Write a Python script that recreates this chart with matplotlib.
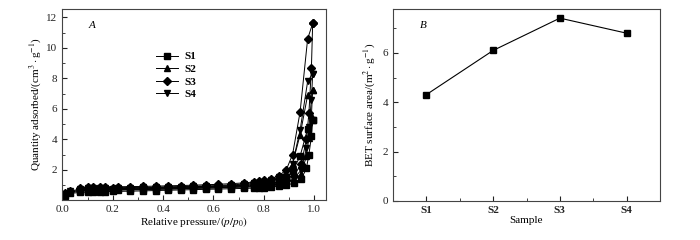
import matplotlib
matplotlib.use("Agg")
import matplotlib.pyplot as plt
from matplotlib.ticker import MultipleLocator

plt.rcParams['font.family'] = ['Liberation Serif', 'DejaVu Serif']
plt.rcParams['mathtext.fontset'] = 'stix'
plt.rcParams['font.size'] = 8

# Panel A: N2 isotherms, adsorption then desorption branch
p_ads = [0.01, 0.03, 0.07, 0.10, 0.12, 0.15, 0.17, 0.20, 0.27, 0.32, 0.37, 0.42,
         0.47, 0.52, 0.57, 0.62, 0.67, 0.72, 0.76, 0.78, 0.80, 0.83, 0.86, 0.89,
         0.92, 0.95, 0.97, 0.98, 0.99, 0.995]
p_des = [0.995, 0.975, 0.945, 0.915, 0.89, 0.86, 0.83, 0.80, 0.78, 0.76, 0.72,
         0.67, 0.62, 0.57, 0.52, 0.47, 0.42, 0.37, 0.32, 0.27, 0.22, 0.17, 0.15,
         0.12, 0.10, 0.07]

s1_ads = [0.30, 0.45, 0.52, 0.54, 0.55, 0.56, 0.57, 0.58, 0.60, 0.62, 0.64, 0.66,
          0.68, 0.70, 0.72, 0.74, 0.76, 0.78, 0.80, 0.82, 0.84, 0.88, 0.93, 1.00,
          1.12, 1.40, 2.10, 3.00, 4.20, 5.30]
s1_des = [5.30, 4.70, 2.90, 1.90, 1.50, 1.25, 1.10, 1.02, 0.97, 0.94, 0.90, 0.86,
          0.83, 0.81, 0.79, 0.77, 0.75, 0.73, 0.72, 0.71, 0.70, 0.69, 0.68, 0.67,
          0.66, 0.64]

s2_ads = [0.35, 0.52, 0.60, 0.62, 0.63, 0.64, 0.65, 0.66, 0.68, 0.70, 0.72, 0.74,
          0.76, 0.78, 0.80, 0.82, 0.84, 0.86, 0.88, 0.90, 0.92, 0.96, 1.02, 1.12,
          1.30, 1.75, 2.90, 4.10, 5.60, 7.25]
s2_des = [7.25, 6.90, 4.30, 2.40, 1.75, 1.40, 1.22, 1.12, 1.07, 1.03, 0.98, 0.94,
          0.91, 0.88, 0.86, 0.84, 0.82, 0.80, 0.79, 0.78, 0.77, 0.76, 0.75, 0.74,
          0.73, 0.71]

s3_ads = [0.45, 0.62, 0.72, 0.74, 0.75, 0.76, 0.77, 0.78, 0.80, 0.82, 0.84, 0.86,
          0.88, 0.90, 0.92, 0.94, 0.96, 0.99, 1.02, 1.04, 1.06, 1.10, 1.18, 1.30,
          1.60, 2.40, 4.00, 5.70, 8.70, 11.60]
s3_des = [11.60, 10.60, 5.80, 3.00, 2.00, 1.60, 1.42, 1.30, 1.24, 1.20, 1.14, 1.09,
          1.05, 1.02, 0.99, 0.97, 0.95, 0.93, 0.91, 0.90, 0.89, 0.88, 0.87, 0.86,
          0.85, 0.83]

s4_ads = [0.40, 0.58, 0.66, 0.68, 0.69, 0.70, 0.71, 0.72, 0.74, 0.76, 0.78, 0.80,
          0.82, 0.84, 0.86, 0.88, 0.90, 0.92, 0.95, 0.97, 0.99, 1.03, 1.10, 1.20,
          1.42, 2.00, 3.40, 4.80, 6.60, 8.30]
s4_des = [8.30, 7.80, 4.60, 2.40, 1.85, 1.50, 1.32, 1.20, 1.15, 1.11, 1.06, 1.01,
          0.97, 0.94, 0.92, 0.90, 0.88, 0.86, 0.85, 0.84, 0.83, 0.82, 0.81, 0.80,
          0.79, 0.77]

series_names = ['S1', 'S2', 'S3', 'S4']
series_markers = ['s', '^', 'D', 'v']

# Panel B: BET surface area
samples = ['S1', 'S2', 'S3', 'S4']
bet_area = [4.31, 6.10, 7.41, 6.80]


def style_axes(ax):
    for sp in ax.spines.values():
        sp.set_color('#444444')
        sp.set_linewidth(0.8)
    ax.tick_params(which='both', direction='in', top=False, right=False,
                   colors='#222222', labelsize=8)
    ax.tick_params(which='major', length=3.5)
    ax.tick_params(which='minor', length=2)


fig = plt.figure(figsize=(7, 2.4), dpi=100)
ax1 = fig.add_axes([62 / 700, 40 / 240, 264 / 700, 191 / 240])
ax2 = fig.add_axes([393 / 700, 39 / 240, 267 / 700, 192 / 240])

ads_list = [s1_ads, s2_ads, s3_ads, s4_ads]
des_list = [s1_des, s2_des, s3_des, s4_des]
for name, mk, ads, des in zip(series_names, series_markers, ads_list, des_list):
    ms = 3.6 if mk == 'D' else 4.0
    ax1.plot(p_ads + p_des, ads + des, color='black', marker=mk, markersize=ms,
             linewidth=0.7, label=name)

ax1.set_xlim(-0.002, 1.048)
ax1.set_ylim(0.02, 12.55)
ax1.set_xticks([0.0, 0.2, 0.4, 0.6, 0.8, 1.0])
ax1.set_xticklabels(['0.0', '0.2', '0.4', '0.6', '0.8', '1.0'])
ax1.xaxis.set_minor_locator(MultipleLocator(0.1))
ax1.set_yticks([2, 4, 6, 8, 10, 12])
ax1.yaxis.set_minor_locator(MultipleLocator(1))
ax1.set_xlabel('Relative pressure/$(p/p_0)$', fontsize=8, labelpad=1)
ax1.set_ylabel('Quantity adsorbed/(cm$^3\\cdot$g$^{-1}$)', fontsize=8, labelpad=2)
ax1.text(0.1, 0.9, 'A', transform=ax1.transAxes, fontstyle='italic', fontsize=8)
leg = ax1.legend(loc='upper left', bbox_to_anchor=(0.34, 0.8), frameon=False,
                 handlelength=2.0, handletextpad=0.5, labelspacing=0.25,
                 borderaxespad=0, prop={'weight': 'bold', 'size': 8})
style_axes(ax1)

xpos = list(range(1, len(samples) + 1))
ax2.plot(xpos, bet_area, color='black', marker='s', markersize=4, linewidth=0.8)
ax2.set_xlim(0.5, 4.5)
ax2.set_ylim(0, 7.78)
ax2.set_xticks(xpos)
ax2.set_xticklabels(samples)
ax2.xaxis.set_minor_locator(MultipleLocator(0.5))
ax2.set_yticks([0, 2, 4, 6])
ax2.yaxis.set_minor_locator(MultipleLocator(1))
ax2.set_xlabel('Sample', fontsize=8, labelpad=1)
ax2.set_ylabel('BET surface area/(m$^2\\cdot$g$^{-1}$)', fontsize=8, labelpad=4)
ax2.text(0.1, 0.9, 'B', transform=ax2.transAxes, fontstyle='italic', fontsize=8)
style_axes(ax2)
for lbl in ax2.get_xticklabels():
    lbl.set_fontweight('bold')

fig.savefig('out.png', dpi=100)
